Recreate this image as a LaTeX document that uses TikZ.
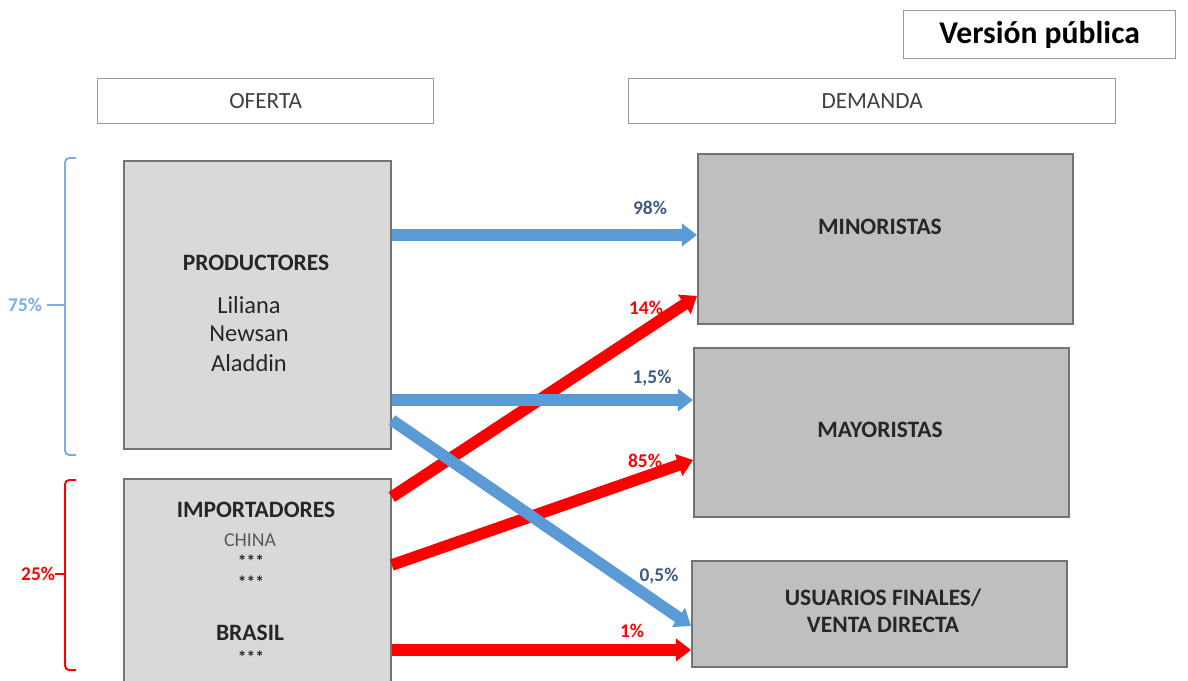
\documentclass[tikz,border=0pt]{standalone}
\usepackage{fontspec}
\setmainfont{Carlito}
\usetikzlibrary{arrows.meta}
\definecolor{flowblue}{HTML}{5B9BD5}
\definecolor{braceblue}{HTML}{7FAEDD}
\definecolor{flowred}{HTML}{FF0000}
\definecolor{pctblue}{HTML}{3E5A80}
\definecolor{boxlight}{HTML}{D9D9D9}
\definecolor{boxdark}{HTML}{BFBFBF}
\definecolor{inktext}{HTML}{262626}

\begin{document}
\begin{tikzpicture}[x=0.025cm,y=-0.025cm,
		headbox/.style={draw=black!40,line width=0.8pt,fill=white,inner sep=0pt,anchor=north west,minimum height=1.125cm,text=black!75,font=\fontsize{16.5}{19}\selectfont},
		supply/.style={draw=black!55,line width=1.2pt,fill=boxlight,inner sep=0pt,anchor=north west,minimum width=6.675cm},
		demand/.style={draw=black!55,line width=1.2pt,fill=boxdark,inner sep=0pt,anchor=north west,minimum width=9.375cm},
		boxtitle/.style={text=inktext,font=\fontsize{16.7}{19.5}\selectfont\bfseries},
		firm/.style={text=inktext,font=\fontsize{17.4}{20}\selectfont},
		stars/.style={text=inktext,font=\fontsize{12.5}{14}\selectfont\bfseries},
		flow/.style={line width=0.29cm,-{Triangle[length=0.38cm,width=0.56cm]}},
		pct/.style={font=\fontsize{13.8}{16}\selectfont\bfseries}]
			\clip (0,0) rectangle (1188,680);
			% Header boxes
			\node (pub) [headbox,minimum width=6.8cm,minimum height=1.2cm,text=black,font=\fontsize{22.5}{26}\selectfont\bfseries] at (903,10) {Versión pública};
			\node (of) [headbox,minimum width=8.4cm] at (97,78) {OFERTA};
			\node (de) [headbox,minimum width=12.175cm] at (628,78) {DEMANDA};
			% Supply side
			\node (prod) [supply,minimum height=7.2cm] at (123,160) {};
			\node (imp) [supply,minimum height=5.4cm] at (123,478) {};
			\node (prodT) [boxtitle] at (256,263) {PRODUCTORES};
			\node (p1) [firm] at (249,305) {Liliana};
			\node (p2) [firm] at (249,334) {Newsan};
			\node (p3) [firm] at (249,363) {Aladdin};
			\node (impT) [boxtitle] at (256,510) {IMPORTADORES};
			\node (china) [text=black!65,font=\fontsize{14}{16}\selectfont] at (250,540) {CHINA};
			\node (c1) [stars] at (251,561) {***};
			\node (c2) [stars] at (251,582) {***};
			\node (bra) [boxtitle] at (250,633) {BRASIL};
			\node (b1) [stars] at (251,657) {***};
			% Demand side
			\node (mino) [demand,minimum height=4.25cm] at (697,153) {};
			\node (mayo) [demand,minimum height=4.225cm] at (693,347) {};
			\node (usu) [demand,minimum height=2.65cm] at (691,560) {};
			\node (minoT) [boxtitle] at (880,227) {MINORISTAS};
			\node (mayoT) [boxtitle] at (880,430) {MAYORISTAS};
			\node (usuT) [boxtitle,align=center] at (883,611) {USUARIOS FINALES/\\VENTA DIRECTA};
			% Shares
			\draw[braceblue,line width=1.4pt,rounded corners=3pt] (76,158) -- (65,158) -- (65,455) -- (76,455);
			\draw[braceblue,line width=1.4pt] (65,305) -- (47,305);
			\node (s75) [pct,text=braceblue,anchor=east] at (47,305) {75\%};
			\draw[flowred,line width=1.4pt,rounded corners=3pt] (76,480) -- (65,480) -- (65,670) -- (76,670);
			\draw[flowred,line width=1.4pt] (65,574) -- (55,574);
			\node (s25) [pct,text=flowred,anchor=east] at (60,574) {25\%};
			% Flows
			\draw[flow,flowred] (imp.east |- 0,497) -- (mino.west |- 0,296);
			\draw[flow,flowred] (imp.east |- 0,565) -- (mayo.west |- 0,460);
			\draw[flow,flowred] (imp.east |- 0,650) -- (usu.west |- 0,650);
			\draw[flow,flowblue] (prod.east |- 0,235) -- (mino.west |- 0,235);
			\draw[flow,flowblue] (prod.east |- 0,400) -- (mayo.west |- 0,400);
			\draw[flow,flowblue] (prod.east |- 0,420) -- (usu.west |- 0,626);
			% Percentages
			\node (f1) [pct,text=pctblue] at (650,208) {98\%};
			\node (f2) [pct,text=flowred] at (646,308) {14\%};
			\node (f3) [pct,text=pctblue] at (652,378) {1,5\%};
			\node (f4) [pct,text=flowred] at (645,461) {85\%};
			\node (f5) [pct,text=pctblue] at (659,576) {0,5\%};
			\node (f6) [pct,text=flowred] at (632,631) {1\%};
		\end{tikzpicture}
\end{document}
